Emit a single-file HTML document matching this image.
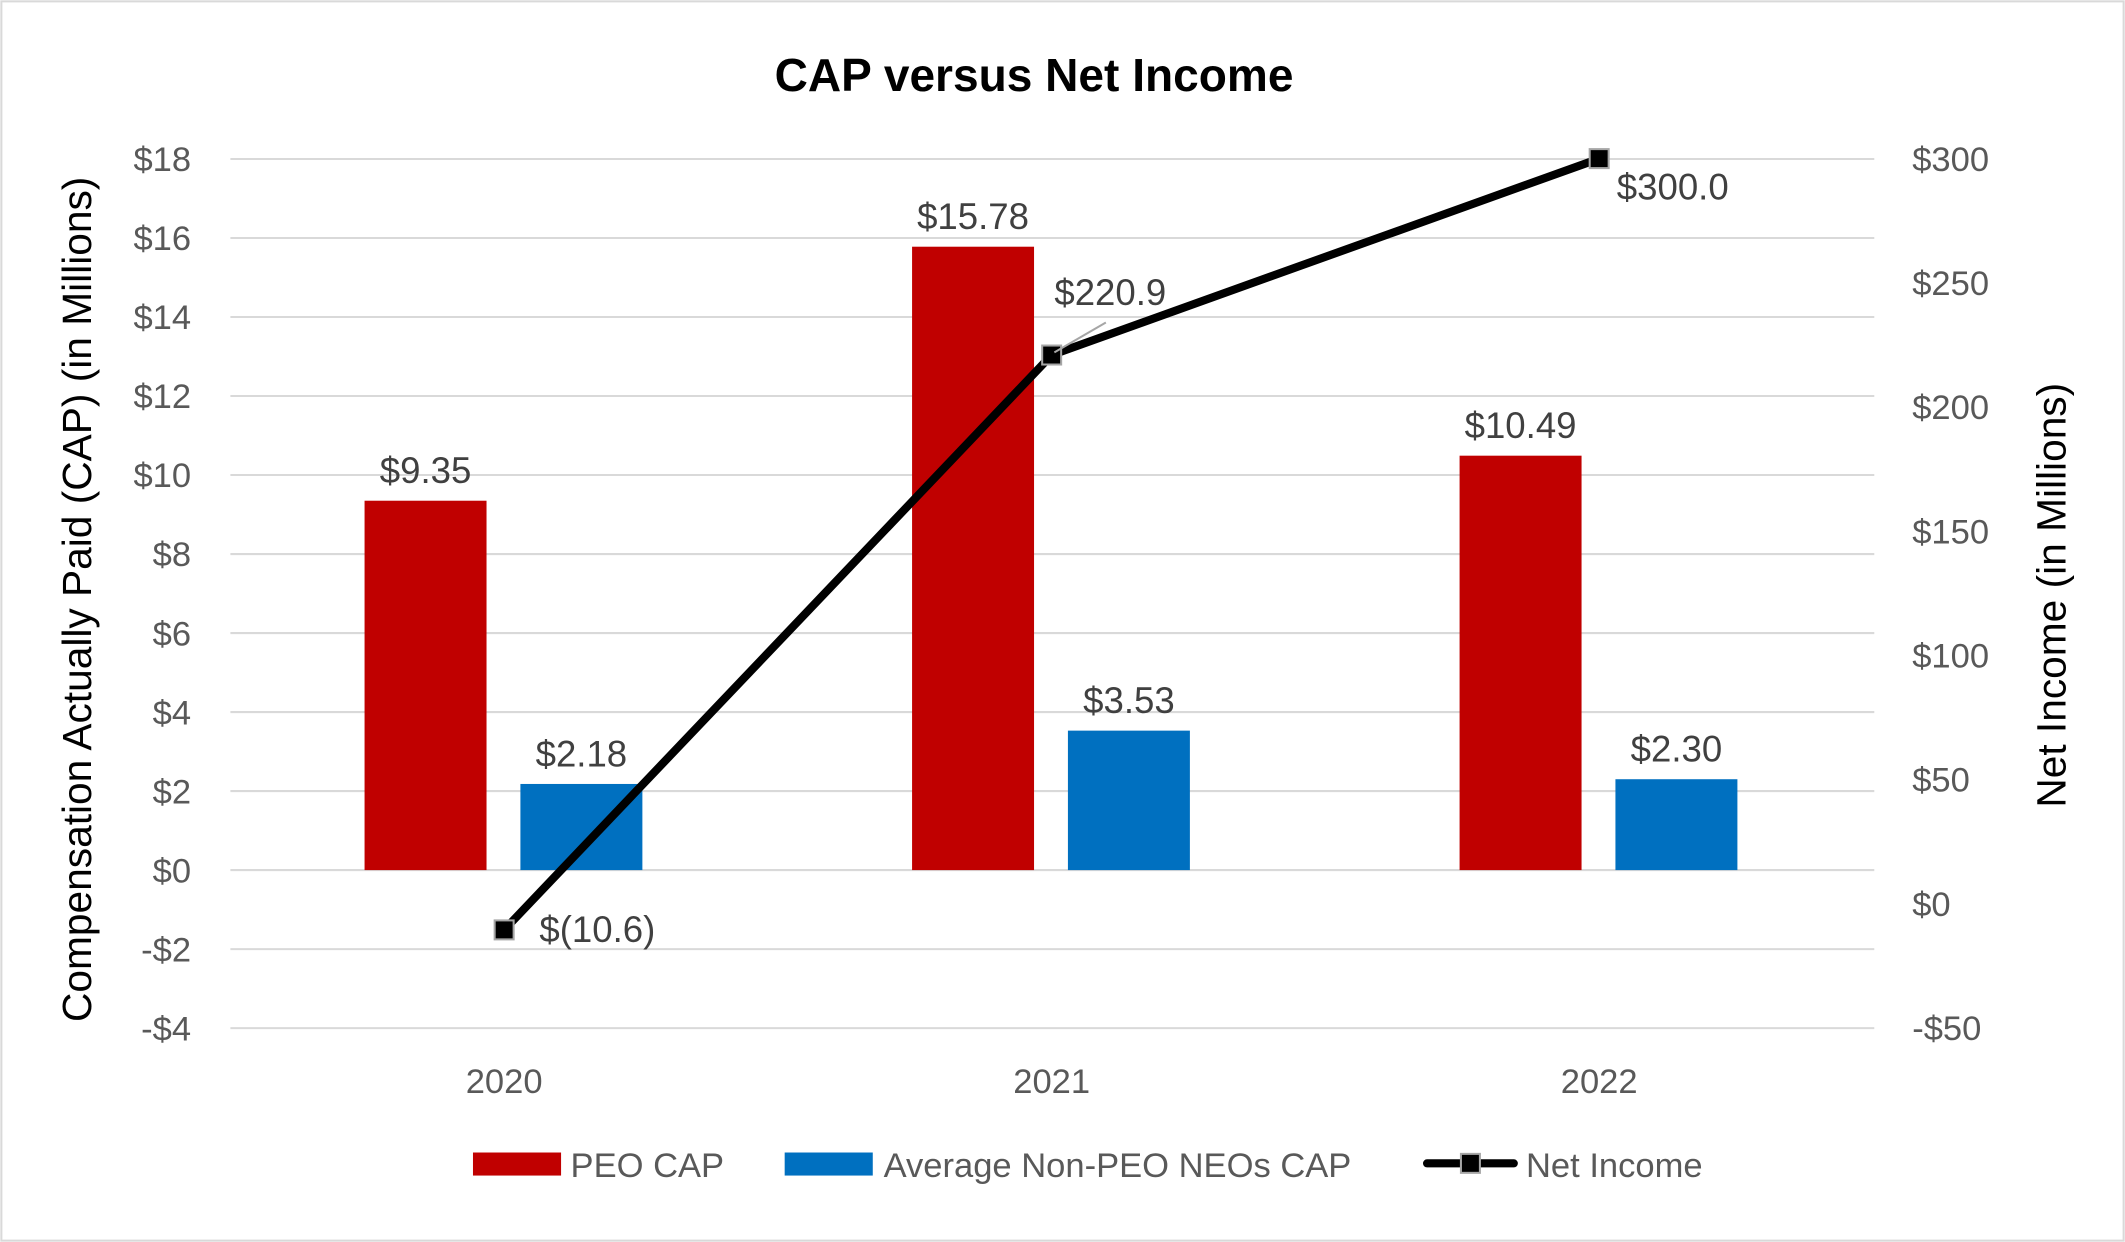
<!DOCTYPE html>
<html><head><meta charset="utf-8"><style>html,body{margin:0;padding:0;background:#fff}svg{display:block}text{font-family:"Liberation Sans",sans-serif}</style></head>
<body>
<svg id="chart" width="2125" height="1242" viewBox="0 0 1568 916" preserveAspectRatio="none" xmlns="http://www.w3.org/2000/svg">
<rect x="1" y="1" width="1566" height="914" fill="#fff" stroke="#d9d9d9" stroke-width="1.5"/>
<text x="763" y="67" text-anchor="middle" font-size="34" font-weight="bold" fill="#000">CAP versus Net Income</text>
<g id="grid"></g><g id="bars"></g><g id="line"></g><g id="labels"></g>
<text transform="translate(67,442) rotate(-90)" text-anchor="middle" font-size="30" fill="#000">Compensation Actually Paid (CAP) (in Millions)</text>
<text transform="translate(1524,439) rotate(-90)" text-anchor="middle" font-size="30" fill="#000">Net Income (in Millions)</text>
<g>
<rect x="349" y="850" width="65" height="17" fill="#c00000"/>
<text x="421" y="868" font-size="25.5" fill="#595959">PEO CAP</text>
<rect x="579" y="850" width="65" height="17" fill="#0070c0"/>
<text x="652" y="868" font-size="25.5" fill="#595959">Average Non-PEO NEOs CAP</text>
<line x1="1053" y1="858" x2="1117" y2="858" stroke="#000" stroke-width="6" stroke-linecap="round"/>
<rect x="1078" y="851" width="14" height="14" fill="#000" stroke="#a6a6a6" stroke-width="1.5"/>
<text x="1126" y="868" font-size="25.5" fill="#595959">Net Income</text>
</g>
</svg>
<script>
const categories=["2020","2021","2022"];
const peoCap=[9.35,15.78,10.49];
const neoCap=[2.18,3.53,2.30];
const netIncome=[-10.6,220.9,300.0];
const peoLabels=["$9.35","$15.78","$10.49"];
const neoLabels=["$2.18","$3.53","$2.30"];
const niLabels=["$(10.6)","$220.9","$300.0"];
const leftTicks=[18,16,14,12,10,8,6,4,2,0,-2,-4];
const rightTicks=[300,250,200,150,100,50,0,-50];

const NS="http://www.w3.org/2000/svg";
const yL=v=>641.7-(v/2)*58.27;
const yR=v=>666.4-(v/50)*91.57;
const xC=i=>372+i*404;
function mk(tag,attrs,parent,txt){const e=document.createElementNS(NS,tag);for(const k in attrs)e.setAttribute(k,attrs[k]);if(txt!==undefined)e.textContent=txt;document.getElementById(parent).appendChild(e);return e;}

leftTicks.forEach(v=>{
  const g=mk('line',{x1:170,x2:1383,y1:yL(v),y2:yL(v),stroke:'#d9d9d9','stroke-width':1.5},'grid');
  
  
  const t=mk('text',{x:141,y:yL(v)+9,'text-anchor':'end','font-size':25.5,fill:'#595959'},'grid',(v<0?'-$'+(-v):'$'+v));
  
  
});
rightTicks.forEach(v=>{
  const t=mk('text',{x:1411,y:yR(v)+9,'font-size':25.5,fill:'#595959'},'grid',(v<0?'-$'+(-v):'$'+v));
  
  
});
categories.forEach((c,i)=>{
  const t=mk('text',{x:xC(i),y:806,'text-anchor':'middle','font-size':25.5,fill:'#595959'},'grid',c);
  
  
  const b1=mk('rect',{x:xC(i)-103,y:yL(peoCap[i]),width:90,height:yL(0)-yL(peoCap[i]),fill:'#c00000'},'bars');
  
  
  const b2=mk('rect',{x:xC(i)+12,y:yL(neoCap[i]),width:90,height:yL(0)-yL(neoCap[i]),fill:'#0070c0'},'bars');
  
  
  const l1=mk('text',{x:xC(i)-58,y:yL(peoCap[i])-13,'text-anchor':'middle','font-size':27,fill:'#404040'},'labels',peoLabels[i]);
  
  
  const l2=mk('text',{x:xC(i)+57,y:yL(neoCap[i])-13,'text-anchor':'middle','font-size':27,fill:'#404040'},'labels',neoLabels[i]);
  
  
});
const pts=netIncome.map((v,i)=>xC(i)+','+yR(v)).join(' ');
const pl=mk('polyline',{points:pts,fill:'none',stroke:'#000','stroke-width':6,'stroke-linejoin':'round'},'line');


const off=[[26,9],[2,-37],[13,30]];
netIncome.forEach((v,i)=>{
  const m=mk('rect',{x:xC(i)-7,y:yR(v)-7,width:14,height:14,fill:'#000',stroke:'#a6a6a6','stroke-width':1.5},'line');
  
  
  const t=mk('text',{x:xC(i)+off[i][0],y:yR(v)+off[i][1],'font-size':27,fill:'#404040'},'labels',niLabels[i]);
  
  
});
const ld=mk('line',{x1:xC(1)+2,y1:yR(netIncome[1])-2,x2:xC(1)+40,y2:yR(netIncome[1])-24,stroke:'#a6a6a6','stroke-width':1.5},'labels');


</script>
</body></html>
